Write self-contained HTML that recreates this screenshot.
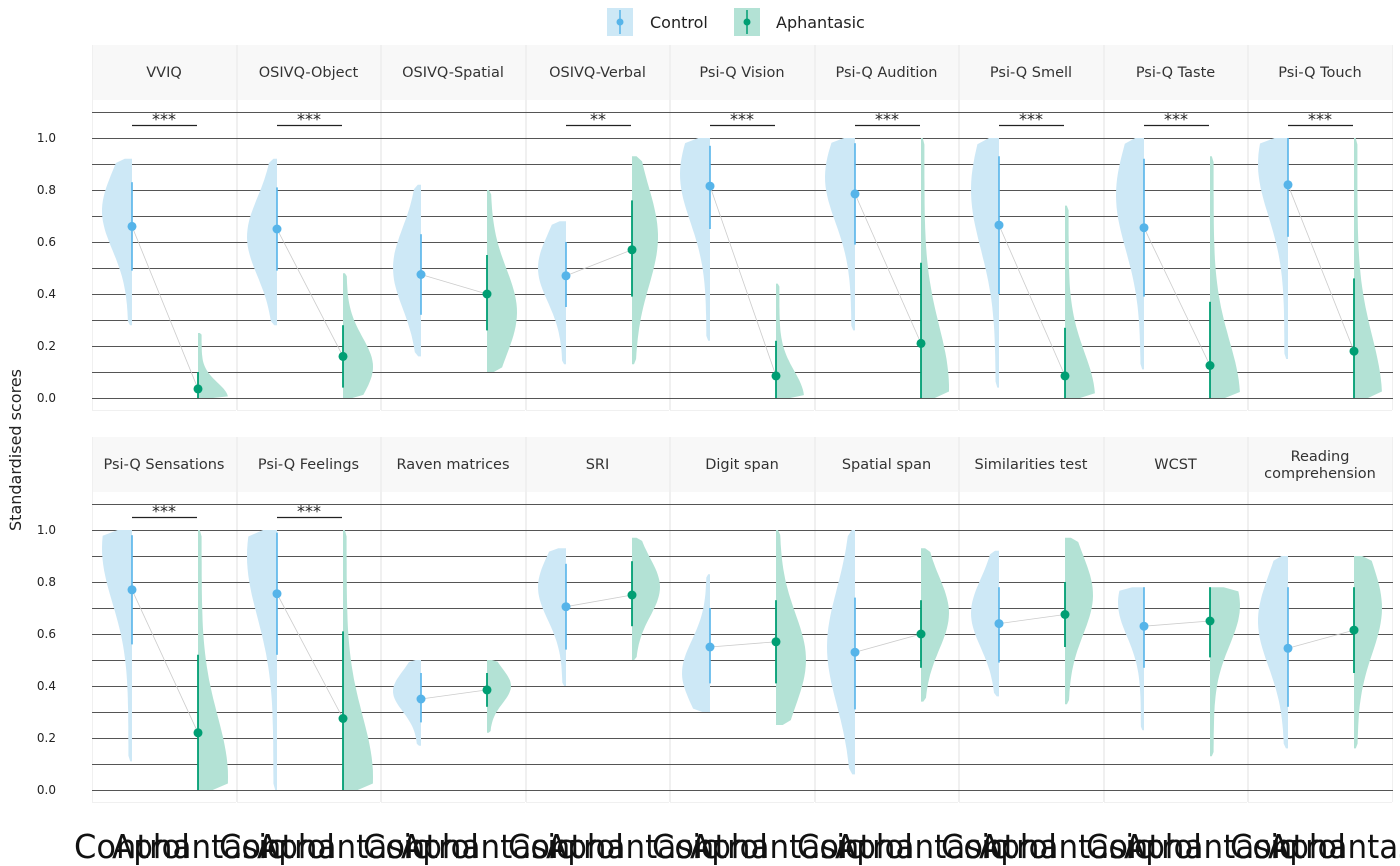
<!DOCTYPE html>
<html><head><meta charset="utf-8"><style>
html,body{margin:0;padding:0;background:#fff;}
svg{display:block;font-family:"DejaVu Sans","Liberation Sans",sans-serif;}
</style></head><body>
<svg id="s" width="1400" height="866" xmlns="http://www.w3.org/2000/svg"></svg>
<script>
const S=document.getElementById('s');
let h='';
const CB='#56B4E9',CG='#009E73',FB='#cde8f6',FG='#b3e2d5';
h+=`<rect x="607" y="8" width="26" height="28" fill="${FB}"/><line x1="620" y1="10" x2="620" y2="34" stroke="${CB}" stroke-width="1.5"/><circle cx="620" cy="22" r="3.5" fill="${CB}"/>`;
h+=`<text x="650" y="28" font-size="16" fill="#222">Control</text>`;
h+=`<rect x="734" y="8" width="26" height="28" fill="${FG}"/><line x1="747" y1="10" x2="747" y2="34" stroke="${CG}" stroke-width="1.5"/><circle cx="747" cy="22" r="3.5" fill="${CG}"/>`;
h+=`<text x="776" y="28" font-size="16" fill="#222">Aphantasic</text>`;
h+=`<text transform="translate(21,450) rotate(-90)" text-anchor="middle" font-size="16" fill="#222">Standardised scores</text>`;
const xs=[92,237,381,526,670,815,959,1104,1248,1393];
const rows=[
{top:45,y0:398,names:['VVIQ','OSIVQ-Object','OSIVQ-Spatial','OSIVQ-Verbal','Psi-Q Vision','Psi-Q Audition','Psi-Q Smell','Psi-Q Taste','Psi-Q Touch'],
sig:['***','***','','**','***','***','***','***','***'],
d:[[.66,.49,.83,.28,.92,.72,30, .035,0,.10,0,.25,0.0,30],
[.65,.49,.81,.28,.92,.62,30, .16,.04,.28,0,.48,.12,30],
[.475,.32,.63,.16,.82,.5,28, .40,.26,.55,.10,.80,.33,30],
[.47,.35,.60,.13,.68,.5,28, .57,.39,.76,.13,.93,.62,26],
[.815,.65,.97,.22,1,.86,30, .085,0,.22,0,.44,0,28],
[.785,.59,.98,.26,1,.85,30, .21,0,.52,0,1,.04,28],
[.665,.40,.93,.04,1,.8,28, .085,0,.27,0,.74,0,30],
[.655,.39,.92,.11,1,.78,28, .125,0,.37,0,.93,0,30],
[.82,.62,1,.15,1,.9,30, .18,0,.46,0,1,0,28]]},
{top:437,y0:790,names:['Psi-Q Sensations','Psi-Q Feelings','Raven matrices','SRI','Digit span','Spatial span','Similarities test','WCST','Reading|comprehension'],
sig:['***','***','','','','','','',''],
d:[[.77,.56,.98,.11,1,.93,30, .22,0,.52,0,1,.05,30],
[.755,.52,.99,0,1,.9,30, .275,0,.61,0,1,.05,30],
[.35,.26,.45,.17,.50,.38,28, .385,.32,.45,.22,.50,.40,24],
[.705,.54,.87,.40,.93,.78,28, .75,.63,.88,.50,.97,.78,28],
[.55,.41,.70,.30,.83,.45,28, .57,.41,.73,.25,1,.5,30],
[.53,.31,.74,.06,1,.55,28, .60,.47,.73,.34,.93,.68,28],
[.64,.49,.78,.36,.92,.68,28, .675,.55,.80,.33,.97,.75,28],
[.63,.47,.78,.23,.78,.72,26, .65,.51,.78,.13,.78,.71,30],
[.545,.32,.78,.16,.90,.65,30, .615,.45,.78,.16,.90,.7,28]]}];
function vio(cx,dir,lo,hi,mode,W,y0,fill){
 const sig=Math.max((hi-lo)/3,0.08);let pts=[];const n=40;
 for(let i=0;i<=n;i++){const v=lo+(hi-lo)*i/n;let w=W*(0.12+0.88*Math.exp(-Math.pow((v-mode)/sig,2)));
  if(i==0||i==n)w*=0.5;pts.push([cx+dir*w,y0-v*260]);}
 let p=`M${cx},${y0-lo*260}`;pts.forEach(q=>p+=`L${q[0].toFixed(1)},${q[1].toFixed(1)}`);p+=`L${cx},${y0-hi*260}Z`;
 return `<path d="${p}" fill="${fill}"/>`;
}
rows.forEach(r=>{
 for(let k=0;k<=5;k++){const v=k*0.2;const y=r.y0-v*260;h+=`<text x="56" y="${y+4}" text-anchor="end" font-size="12" fill="#222">${v.toFixed(1)}</text>`;}
 for(let i=0;i<9;i++){
  const x0=xs[i],x1=xs[i+1]-1;
  h+=`<rect x="${x0}" y="${r.top}" width="${x1-x0}" height="55" fill="#f8f8f8"/>`;
  const nm=r.names[i].split('|');const cx=(x0+x1)/2;
  if(nm.length==1)h+=`<text x="${cx}" y="${r.top+32}" text-anchor="middle" font-size="14.5" fill="#333">${nm[0]}</text>`;
  else{h+=`<text x="${cx}" y="${r.top+24}" text-anchor="middle" font-size="14.5" fill="#333">${nm[0]}</text><text x="${cx}" y="${r.top+41}" text-anchor="middle" font-size="14.5" fill="#333">${nm[1]}</text>`;}
  h+=`<line x1="${x0+.5}" y1="${r.top}" x2="${x0+.5}" y2="${r.y0+12}" stroke="#f0f0f0"/><line x1="${x1+.5}" y1="${r.top}" x2="${x1+.5}" y2="${r.y0+12}" stroke="#f0f0f0"/>`;
  h+=`<line x1="${x0}" y1="${r.y0+12.5}" x2="${x1}" y2="${r.y0+12.5}" stroke="#f0f0f0"/>`;
 }
 for(let k=0;k<=11;k++){const y=r.y0-k*26+.5;h+=`<line x1="92" y1="${y}" x2="1393" y2="${y}" stroke="#555" stroke-width="1"/>`;}
 for(let i=0;i<9;i++){
  const x0=xs[i],cc=x0+40,ca=x0+106,d=r.d[i];
  h+=vio(cc,-1,d[3],d[4],d[5],d[6],r.y0,FB);
  h+=vio(ca,1,d[10],d[11],d[12],d[13],r.y0,FG);
  h+=`<line x1="${cc}" y1="${r.y0-d[0]*260}" x2="${ca}" y2="${r.y0-d[7]*260}" stroke="#ccc" stroke-width="0.8"/>`;
  h+=`<line x1="${cc}" y1="${r.y0-d[1]*260}" x2="${cc}" y2="${r.y0-d[2]*260}" stroke="${CB}" stroke-width="1.6"/>`;
  h+=`<line x1="${ca}" y1="${r.y0-d[8]*260}" x2="${ca}" y2="${r.y0-d[9]*260}" stroke="${CG}" stroke-width="1.8"/>`;
  h+=`<circle cx="${cc}" cy="${r.y0-d[0]*260}" r="4.5" fill="${CB}"/><circle cx="${ca}" cy="${r.y0-d[7]*260}" r="4.5" fill="${CG}"/>`;
  if(r.sig[i]){const y=r.y0-1.05*260+.5;h+=`<line x1="${x0+40}" y1="${y}" x2="${x0+105}" y2="${y}" stroke="#222" stroke-width="1.2"/><text x="${x0+72}" y="${y-1}" text-anchor="middle" font-size="16" fill="#222">${r.sig[i]}</text>`;}
 }
});
for(let i=0;i<9;i++){const x0=xs[i];
 h+=`<text x="${x0+40-58}" y="858" font-size="33" fill="#111" textLength="116" lengthAdjust="spacingAndGlyphs">Control</text>`;
 h+=`<text x="${x0+106-86}" y="858" font-size="33" fill="#111" textLength="172" lengthAdjust="spacingAndGlyphs">Aphantasic</text>`;}
S.innerHTML=h;
</script>
</body></html>
